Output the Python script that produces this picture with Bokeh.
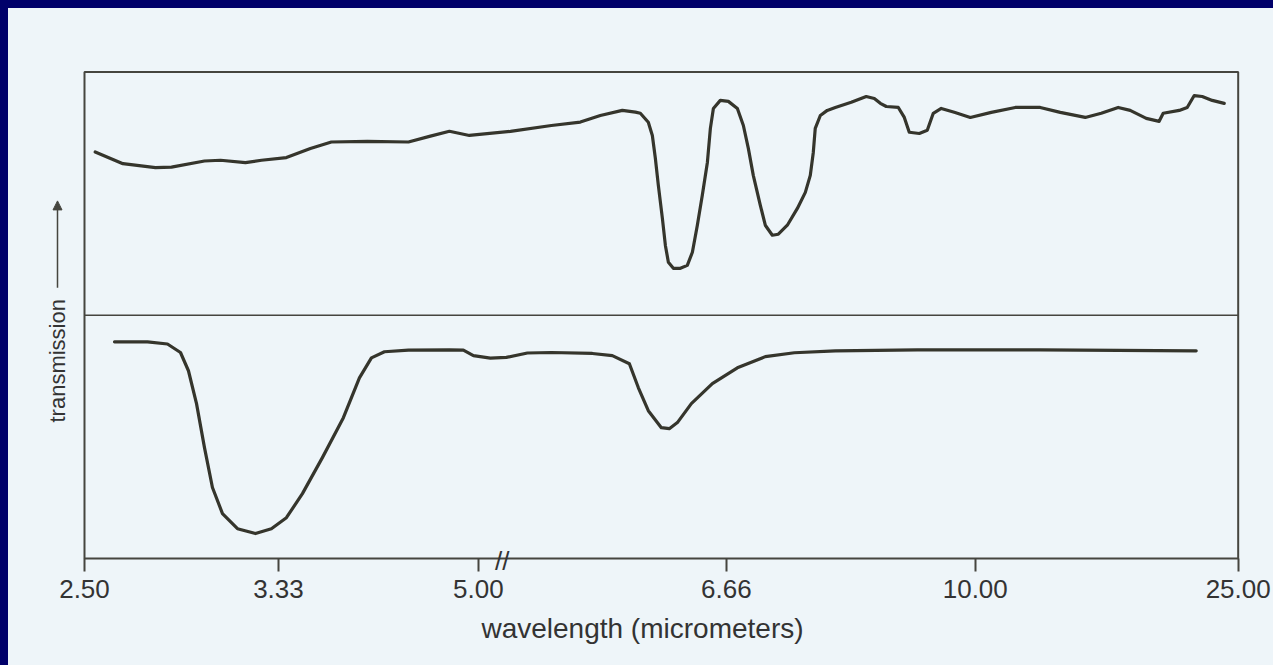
import math
from bokeh.plotting import figure
from bokeh.models import Range1d, FixedTicker, Arrow, NormalHead
from bokeh.core.properties import value
from bokeh.embed import file_html
from bokeh.resources import INLINE

# ---- data (x in chart-axis units 0..100, values as fraction of each panel) ----
tick_u = [0, 16.81, 34.14, 55.63, 77.21, 100]
tick_labels = ["2.50", "3.33", "5.00", "6.66", "10.00", "25.00"]

upper_u = [0.93, 3.33, 6.15, 7.54, 10.40, 11.79, 13.95, 15.34, 17.50, 19.58, 21.40, 24.52,
           28.08, 29.90, 31.63, 33.36, 36.92, 40.47, 42.98, 44.71, 46.62, 47.75, 48.18, 48.87,
           49.22, 49.48, 49.74, 50.09, 50.35, 50.61, 51.04, 51.65, 52.25, 52.69, 53.12, 53.55,
           53.99, 54.25, 54.51, 55.11, 55.81, 56.59, 57.11, 57.54, 57.97, 58.58, 59.01, 59.62,
           60.14, 60.92, 61.79, 62.48, 62.91, 63.17, 63.34, 63.78, 64.38, 65.08, 66.46, 67.76,
           68.46, 68.98, 69.50, 70.54, 71.06, 71.49, 72.36, 73.05, 73.57, 74.26, 75.39, 76.78,
           78.60, 80.68, 82.84, 84.58, 86.74, 88.13, 89.60, 90.64, 92.03, 93.15, 93.50, 94.89,
           95.58, 96.19, 96.88, 97.75, 98.79]
upper_t = [0.671, 0.623, 0.607, 0.609, 0.634, 0.637, 0.627, 0.637, 0.648, 0.685, 0.712, 0.715,
           0.712, 0.735, 0.756, 0.739, 0.756, 0.780, 0.794, 0.821, 0.842, 0.835, 0.830, 0.793,
           0.739, 0.645, 0.534, 0.398, 0.287, 0.218, 0.193, 0.193, 0.205, 0.259, 0.370, 0.493,
           0.628, 0.768, 0.850, 0.883, 0.879, 0.850, 0.780, 0.686, 0.575, 0.452, 0.370, 0.329,
           0.333, 0.370, 0.439, 0.505, 0.575, 0.669, 0.768, 0.821, 0.842, 0.854, 0.875, 0.899,
           0.891, 0.871, 0.858, 0.854, 0.813, 0.752, 0.747, 0.760, 0.830, 0.850, 0.834, 0.813,
           0.834, 0.854, 0.854, 0.834, 0.813, 0.830, 0.854, 0.842, 0.809, 0.797, 0.830, 0.842,
           0.854, 0.903, 0.899, 0.883, 0.871]

lower_u = [2.60, 5.46, 7.19, 8.32, 9.01, 9.71, 10.40, 11.09, 11.96, 13.26, 14.82, 16.20,
           17.50, 18.89, 20.62, 22.44, 23.83, 24.87, 26.00, 28.08, 31.63, 32.84, 33.71, 35.18,
           36.57, 38.39, 40.47, 44.02, 45.75, 47.23, 48.01, 48.87, 50.00, 50.69, 51.39, 52.60,
           54.42, 56.59, 59.01, 61.53, 65.08, 72.18, 82.84, 96.36]
lower_t = [0.891, 0.891, 0.882, 0.847, 0.772, 0.637, 0.456, 0.292, 0.185, 0.123, 0.103, 0.123,
           0.168, 0.267, 0.415, 0.579, 0.743, 0.825, 0.850, 0.857, 0.858, 0.857, 0.834, 0.824,
           0.827, 0.845, 0.847, 0.843, 0.834, 0.801, 0.702, 0.608, 0.538, 0.534, 0.559, 0.637,
           0.719, 0.784, 0.830, 0.846, 0.854, 0.858, 0.858, 0.854]

y_title = "transmission"
x_title = "wavelength (micrometers)"

# ---- styles ----
PAPER = "#eef5f9"
NAVY = "#00006a"
FRAME = "#45453f"
TRACE = "#35352c"
TEXT = "#333333"
FONT = "Liberation Sans"

U_LO, U_HI = tick_u[0], tick_u[-1]   # chart box spans the full axis
N_PANELS = 2

p = figure(width=1265, height=657, output_backend="svg", toolbar_location=None,
           y_axis_location=None,
           x_range=Range1d(-3.467, 100.2), y_range=Range1d(-0.053, 2.01),
           min_border_left=36, min_border_right=33, min_border_top=61, min_border_bottom=94)
p.extra_y_ranges = {"upper": Range1d(-1.053, 1.01)}
p.background_fill_color = PAPER
p.border_fill_color = PAPER
p.outline_line_color = None
p.grid.visible = False

xa = p.xaxis[0]
xa.ticker = FixedTicker(ticks=tick_u)
xa.major_label_overrides = {u: lab for u, lab in zip(tick_u, tick_labels)}
xa.minor_tick_line_color = None
xa.major_tick_out = 0
xa.major_tick_in = 13
xa.major_tick_line_color = FRAME
xa.major_tick_line_width = 2
xa.axis_line_color = None
xa.major_label_text_font = FONT
xa.major_label_text_font_size = "26px"
xa.major_label_text_color = TEXT
xa.major_label_standoff = 8
xa.axis_label = x_title
xa.axis_label_text_font = FONT
xa.axis_label_text_font_size = "28px"
xa.axis_label_text_font_style = "normal"
xa.axis_label_text_color = TEXT
xa.axis_label_standoff = 12

# chart box and panel divider
p.quad(left=U_LO, right=U_HI, bottom=0, top=N_PANELS, fill_color=None,
       line_color=FRAME, line_width=2)
p.segment(x0=U_LO, x1=U_HI, y0=1, y1=1, line_color=FRAME, line_width=1.6)

# traces
p.line(upper_u, upper_t, y_range_name="upper", line_color=TRACE, line_width=3.2,
       line_join="round", line_cap="round")
p.line(lower_u, lower_t, line_color=TRACE, line_width=3.2,
       line_join="round", line_cap="round")

# y title with arrow
p.text(x=[-2.34], y=[0.813], text=[y_title], angle=math.pi / 2,
       text_align="center", text_baseline="middle", text_font=value(FONT),
       text_font_size="22px", text_color=TEXT)
p.add_layout(Arrow(x_start=-2.34, y_start=1.113, x_end=-2.34, y_end=1.47,
                   line_color=FRAME, line_width=1.5,
                   end=NormalHead(size=9, fill_color=FRAME, line_color=FRAME)))

# axis break mark
p.text(x=[36.2], y=[-0.008], text=["//"], text_align="center", text_baseline="middle",
       text_font=value(FONT), text_font_size="26px", text_color=TEXT)

html = file_html(p, INLINE)
style = ("<style>html{background:%s;}"
         "body{padding:8px 0 0 8px !important;background:%s;"
         "background-clip:content-box;overflow:hidden;}</style>" % (NAVY, PAPER))
html = html.replace("</head>", style + "</head>", 1)
open("out.html", "w").write(html)
